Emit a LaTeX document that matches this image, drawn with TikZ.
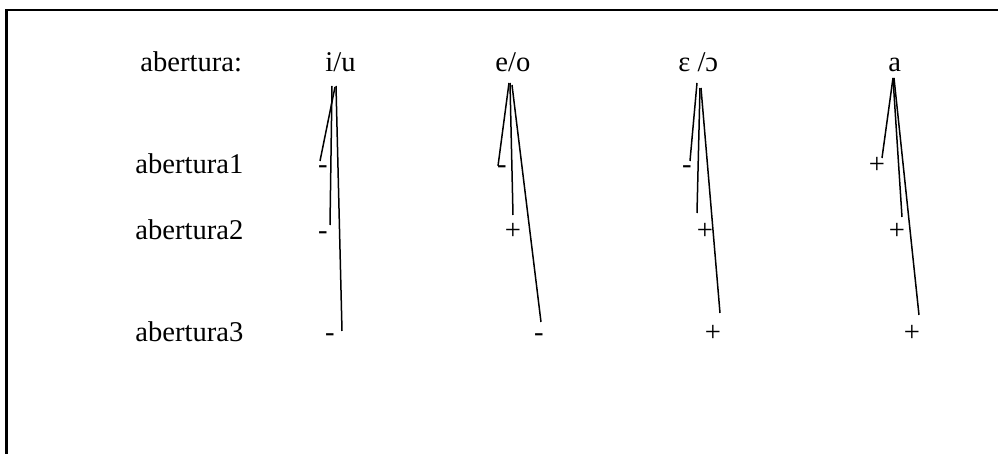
\documentclass[tikz,border=0pt]{standalone}
\usepackage{fontspec}
\setmainfont{Liberation Serif}
\begin{document}
\begin{tikzpicture}[x=0.5pt,y=-0.5pt,
  lbl/.style={anchor=base west,inner sep=0pt,font=\fontsize{14.3pt}{16pt}\selectfont},
  sgn/.style={anchor=base,inner sep=0pt,font=\fontsize{14.3pt}{16pt}\selectfont},
  branch/.style={line width=0.75pt}]
\useasboundingbox (0,0) rectangle (998,454);
\clip (0,0) rectangle (998,454);
\draw[line width=1.3pt] (6.5,470) -- (6.5,10) -- (1010,10);
% headers
\node[lbl] (hd) at (140,72) {abertura:};
\node[lbl] (iu) at (325,72) {i/u};
\node[lbl] (eo) at (495,72) {e/o};
\node[lbl] (EO) at (678,72) {ε /ɔ};
\node[lbl] (aa) at (888,72) {a};
% row labels
\node[lbl] (r1) at (135,174) {abertura1};
\node[lbl] (r2) at (135,240) {abertura2};
\node[lbl] (r3) at (135,342) {abertura3};
% signs
\node[sgn] (iu1) at (323,174) {-};
\node[sgn] (iu2) at (323,240) {-};
\node[sgn] (iu3) at (330,342) {-};
\node[sgn] (eo1) at (502,174) {-};
\node[sgn] (eo2) at (513,240) {+};
\node[sgn] (eo3) at (539,342) {-};
\node[sgn] (EO1) at (687,174) {-};
\node[sgn] (EO2) at (705,240) {+};
\node[sgn] (EO3) at (713,342) {+};
\node[sgn] (aa1) at (877,174) {+};
\node[sgn] (aa2) at (897,240) {+};
\node[sgn] (aa3) at (912,342) {+};
% branch endpoints
\coordinate (iuA) at (335,87);  \coordinate (iuE1) at (320,161);
\coordinate (iuB) at (332,86);  \coordinate (iuE2) at (330,225);
\coordinate (iuC) at (336,86);  \coordinate (iuE3) at (342,331);
\coordinate (eoA) at (509,83);  \coordinate (eoE1) at (498,166);
\coordinate (eoB) at (510,83);  \coordinate (eoE2) at (513,215);
\coordinate (eoC) at (512,85);  \coordinate (eoE3) at (541,322);
\coordinate (EOA) at (697,83);  \coordinate (EOE1) at (690,161);
\coordinate (EOB) at (700,88);  \coordinate (EOE2) at (697,213);
\coordinate (EOC) at (701,88);  \coordinate (EOE3) at (720,313);
\coordinate (aaA) at (893,78);  \coordinate (aaE1) at (882,158);
\coordinate (aaB) at (893,78);  \coordinate (aaE2) at (902,217);
\coordinate (aaC) at (894,78);  \coordinate (aaE3) at (919,315);
\foreach \c in {iu,eo,EO,aa}{
  \draw[branch] (\c A) -- (\c E1);
  \draw[branch] (\c B) -- (\c E2);
  \draw[branch] (\c C) -- (\c E3);
}
\end{tikzpicture}
\end{document}
